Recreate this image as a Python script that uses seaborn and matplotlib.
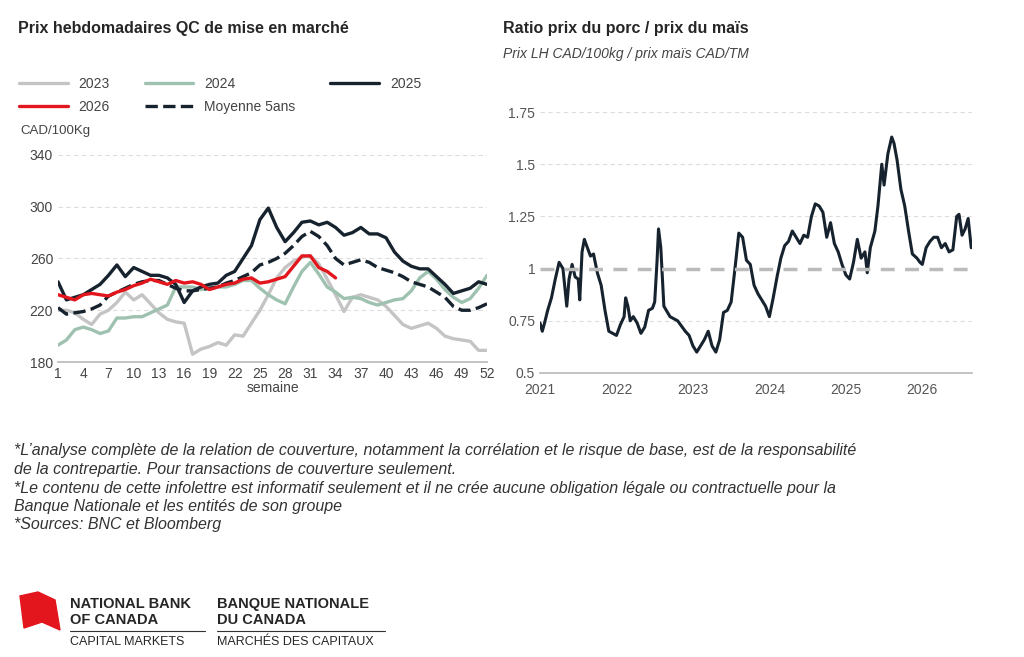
import matplotlib
matplotlib.use("Agg")
import matplotlib.pyplot as plt
import seaborn as sns
import numpy as np
import pandas as pd
from matplotlib.patches import Polygon

weeks = list(range(1, 53))
y2023 = [220,220,218,213,209,217,220,226,234,228,232,225,218,213,211,210,186,190,192,195,193,201,200,210,220,232,245,253,258,261,262,256,244,232,219,230,232,230,228,223,216,209,206,208,210,206,200,198,197,196,189,189]
y2024 = [193,197,205,207,205,202,204,214,214,215,215,218,221,224,238,238,238,236,237,238,238,240,243,243,237,232,228,225,238,250,257,248,238,234,229,230,229,226,224,226,228,229,235,245,250,244,236,230,226,229,237,247]
y2025 = [242,228,230,232,236,240,247,255,246,253,250,247,247,245,240,226,235,238,240,241,247,250,260,270,290,299,284,273,280,288,289,286,288,284,278,280,284,279,279,276,265,258,254,252,252,246,240,233,235,237,242,240]
y2026 = [232,230,228,232,233,232,231,234,236,239,241,244,242,240,243,241,242,240,236,238,240,241,244,245,241,242,244,246,254,262,262,253,250,245]
moy5 = [222,217,218,219,221,224,231,234,237,240,242,243,243,240,237,235,235,236,237,238,241,243,246,249,255,257,260,264,270,277,281,277,270,260,255,257,259,257,253,251,249,246,242,240,238,234,230,223,220,220,222,225]

ratio_t = [2021.00,2021.03,2021.06,2021.10,2021.15,2021.20,2021.25,2021.30,2021.35,2021.38,2021.42,2021.46,2021.50,2021.52,2021.55,2021.58,2021.62,2021.66,2021.70,2021.75,2021.80,2021.85,2021.90,2021.95,2022.00,2022.05,2022.10,2022.12,2022.15,2022.18,2022.22,2022.27,2022.32,2022.37,2022.42,2022.47,2022.50,2022.53,2022.55,2022.58,2022.62,2022.70,2022.80,2022.90,2022.95,2023.00,2023.05,2023.10,2023.15,2023.20,2023.25,2023.30,2023.35,2023.40,2023.45,2023.50,2023.55,2023.60,2023.65,2023.70,2023.75,2023.80,2023.85,2023.90,2023.95,2024.00,2024.05,2024.10,2024.15,2024.20,2024.25,2024.30,2024.35,2024.40,2024.45,2024.50,2024.55,2024.60,2024.65,2024.70,2024.75,2024.80,2024.85,2024.90,2024.95,2025.00,2025.05,2025.10,2025.15,2025.20,2025.25,2025.28,2025.32,2025.38,2025.42,2025.47,2025.50,2025.55,2025.60,2025.63,2025.67,2025.72,2025.77,2025.82,2025.87,2025.93,2025.97,2026.00,2026.05,2026.10,2026.15,2026.20,2026.25,2026.30,2026.35,2026.40,2026.45,2026.48,2026.52,2026.56,2026.60,2026.64]
ratio_v = [0.74,0.70,0.74,0.80,0.86,0.95,1.03,1.00,0.82,0.95,1.02,0.96,0.95,0.85,1.08,1.14,1.10,1.06,1.07,0.98,0.92,0.80,0.70,0.69,0.68,0.73,0.77,0.86,0.82,0.75,0.77,0.74,0.69,0.72,0.80,0.81,0.84,1.03,1.19,1.10,0.82,0.77,0.75,0.70,0.68,0.63,0.60,0.63,0.66,0.70,0.63,0.60,0.66,0.79,0.80,0.84,1.00,1.17,1.15,1.04,1.02,0.92,0.88,0.85,0.82,0.77,0.86,0.96,1.05,1.11,1.13,1.18,1.15,1.12,1.16,1.15,1.25,1.31,1.30,1.27,1.15,1.22,1.12,1.08,1.02,0.97,0.95,1.03,1.14,1.05,1.08,0.98,1.10,1.18,1.30,1.50,1.40,1.55,1.63,1.60,1.52,1.38,1.30,1.18,1.07,1.05,1.03,1.02,1.10,1.13,1.15,1.15,1.10,1.12,1.08,1.09,1.25,1.26,1.16,1.19,1.24,1.10]

sns.set_theme(style="white")
plt.rcParams['font.family'] = ['Liberation Sans', 'DejaVu Sans']
fig = plt.figure(figsize=(10.24, 6.57), dpi=100)
W, H = 1024, 657
def ax_at(x0, y0, x1, y1):
    return fig.add_axes([x0/W, 1-y1/H, (x1-x0)/W, (y1-y0)/H])

dark = "#16232e"
ax = ax_at(58, 155, 487, 362)
series = [("2023", y2023, "#c4c4c4", "-"), ("2024", y2024, "#9fc2b0", "-"),
          ("2025", y2025, dark, "-"), ("Moyenne 5ans", moy5, dark, "--"),
          ("2026", y2026, "#e3151d", "-")]
for name, vals, c, ls in series:
    sns.lineplot(x=weeks[:len(vals)], y=vals, ax=ax, color=c, linestyle=ls, lw=2.4, label=name)
ax.set_xlim(1, 52); ax.set_ylim(180, 340)
ax.set_yticks([180, 220, 260, 300, 340])
ax.set_xticks(list(range(1, 53, 3)))
ax.tick_params(labelsize=10, colors="#444444", length=0)
for y in [220, 260, 300, 340]:
    ax.axhline(y, color="#dddddd", lw=0.8, ls=(0, (4, 3)), zorder=0)
for s in ["top", "right", "left"]: ax.spines[s].set_visible(False)
ax.spines["bottom"].set_color("#bbbbbb")
ax.set_xlabel("semaine", fontsize=10, color="#444444", labelpad=0)
ax.set_ylabel("")
h, l = ax.get_legend_handles_labels()
d = dict(zip(l, h))
order = ["2023", "2026", "2024", "Moyenne 5ans", "2025"]
ax.legend([d[k] for k in order], order, ncol=3, loc="lower left", bbox_to_anchor=(-0.12, 1.14), frameon=False,
          fontsize=10, handlelength=3.5, columnspacing=2.5, labelspacing=0.6, labelcolor="#444444")
fig.text(20/W, 1-131/H, "CAD/100Kg", fontsize=9.5, color="#444444", va="center")
fig.text(18/W, 1-28/H, "Prix hebdomadaires QC de mise en marché", fontsize=11.5, weight="bold", va="center")

ax2 = ax_at(540, 112, 972, 373)
sns.lineplot(x=ratio_t, y=ratio_v, ax=ax2, color=dark, lw=2.2)
ax2.axhline(1.0, color="#bbbbbb", lw=2.5, ls=(0, (4, 3)))
ax2.set_xlim(2021, 2026.65); ax2.set_ylim(0.5, 1.75)
ax2.set_yticks([0.5, 0.75, 1, 1.25, 1.5, 1.75]); ax2.set_yticklabels(["0.5", "0.75", "1", "1.25", "1.5", "1.75"])
ax2.set_xticks(range(2021, 2027)); ax2.set_xticklabels([str(y) for y in range(2021, 2027)])
for y in [0.75, 1.25, 1.5, 1.75]:
    ax2.axhline(y, color="#dddddd", lw=0.8, ls=(0, (4, 3)), zorder=0)
ax2.tick_params(labelsize=10, colors="#555555", length=0)
ax2.tick_params(axis="x", length=4, color="#bbbbbb")
for s in ["top", "right", "left"]: ax2.spines[s].set_visible(False)
ax2.spines["bottom"].set_color("#bbbbbb")
fig.text(503/W, 1-28/H, "Ratio prix du porc / prix du maïs", fontsize=11.5, weight="bold", va="center")
fig.text(503/W, 1-54/H, "Prix LH CAD/100kg / prix maïs CAD/TM", fontsize=10, style="italic", color="#444444", va="center")

notes = ["*L’analyse complète de la relation de couverture, notamment la corrélation et le risque de base, est de la responsabilité",
         "de la contrepartie. Pour transactions de couverture seulement.",
         "*Le contenu de cette infolettre est informatif seulement et il ne crée aucune obligation légale ou contractuelle pour la",
         "Banque Nationale et les entités de son groupe",
         "*Sources: BNC et Bloomberg"]
for i, t in enumerate(notes):
    fig.text(14/W, 1-(451+18.5*i)/H, t, fontsize=11.5, style="italic", color="#333333", va="center")

fig.patches.append(Polygon([[20/W, 1-596/H], [38/W, 1-592/H], [55/W, 1-600/H], [60/W, 1-630/H], [42/W, 1-622/H], [24/W, 1-628/H]],
                           closed=True, transform=fig.transFigure, color="#e3151d"))
for x, l1, l2, l3 in [(70, "NATIONAL BANK", "OF CANADA", "CAPITAL MARKETS"), (217, "BANQUE NATIONALE", "DU CANADA", "MARCHÉS DES CAPITAUX")]:
    fig.text(x/W, 1-604/H, l1, fontsize=10.5, weight="bold", va="center")
    fig.text(x/W, 1-620/H, l2, fontsize=10.5, weight="bold", va="center")
    fig.text(x/W, 1-642/H, l3, fontsize=9, va="center")
    fig.add_artist(plt.Line2D([x/W, (x+ (135 if x == 70 else 168))/W], [1-631/H, 1-631/H], color="#333333", lw=0.8))
fig.savefig("out.png", dpi=100)
